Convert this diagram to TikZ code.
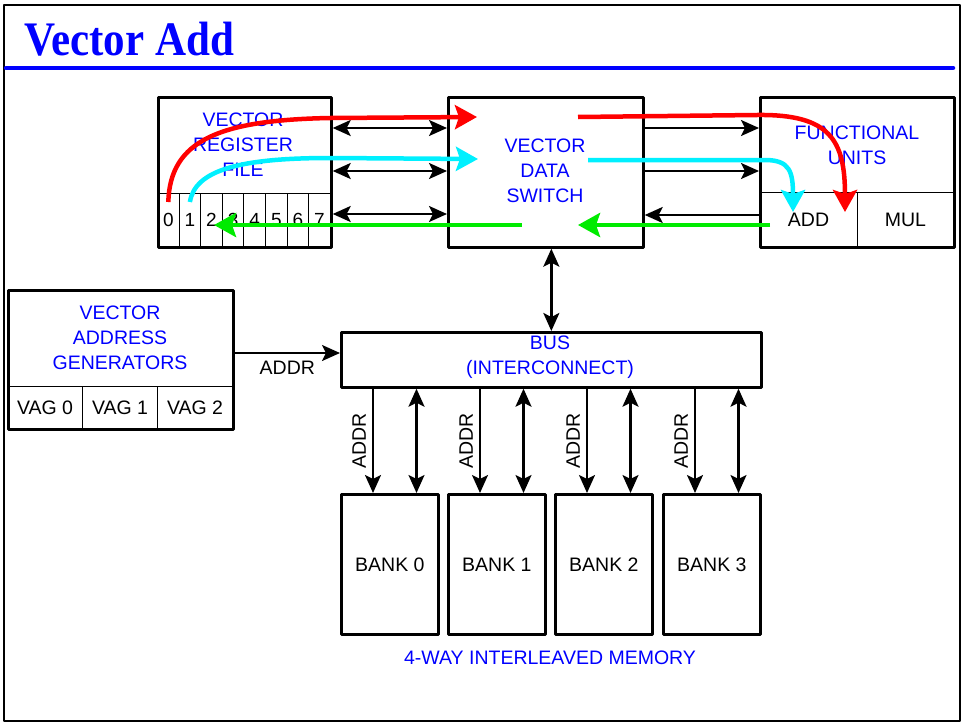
\documentclass[tikz,border=0pt]{standalone}
\usepackage{fontspec}
\setmainfont{Liberation Sans}
\newfontfamily\titlefont{Liberation Serif}
\usetikzlibrary{arrows.meta,calc}
\definecolor{flowred}{RGB}{255,0,0}
\definecolor{flowcyan}{RGB}{0,240,255}
\definecolor{flowgreen}{RGB}{0,235,0}
\tikzset{
  box/.style={draw, line width=2.7pt, inner sep=0pt, anchor=north west},
  cell/.style={draw, line width=1pt, inner sep=0pt, anchor=north west, font=\fontsize{19}{19}\selectfont},
  txt/.style={font=\fontsize{19.5}{25}\selectfont, align=center},
  lbl/.style={txt, text=blue},
  one/.style={line width=2.3pt, -{Stealth[length=18pt,width=16pt,inset=4pt]}},
  two/.style={line width=2.3pt, {Stealth[length=18pt,width=16pt,inset=4pt]}-{Stealth[length=18pt,width=16pt,inset=4pt]}},
  flow/.style={line width=4.5pt, draw=#1, -{Stealth[length=22pt,width=24pt,inset=4pt]}}
}
\begin{document}
\begin{tikzpicture}[x=1pt, y=-1pt, line join=round]
  \useasboundingbox (0,0) rectangle (964,723);
  % the slide frame and its title
  \draw[line width=1.8pt] (4,5) rectangle (960,721);
  \node[anchor=base west, text=blue, yscale=1.12, inner sep=0pt,
        font=\titlefont\bfseries\fontsize{43}{43}\selectfont] (title) at (24,55) {Vector Add};
  \draw[blue, line width=4.5pt, line cap=round] (6,68) -- (953,68);
  % vector register file, eight registers
  \foreach \i in {0,...,7}
    \node[cell, minimum width=21.6pt, minimum height=53pt] (r\i) at ({157+21.6*\i},193) {\i};
  \node[box, minimum width=173pt, minimum height=150pt] (vrf) at (157,96) {};
  \node[lbl] (vrft) at (243,145) {VECTOR\\REGISTER\\FILE};
  % vector data switch
  \node[box, minimum width=195pt, minimum height=150pt] (vds) at (447,96) {};
  \node[lbl] (vdst) at (545,171) {VECTOR\\DATA\\SWITCH};
  % functional units
  \node[cell, minimum width=98pt, minimum height=54pt, txt] (add) at (759,192) {ADD};
  \node[cell, minimum width=96pt, minimum height=54pt, txt] (mul) at (857,192) {MUL};
  \node[box, minimum width=194pt, minimum height=150pt] (fu) at (759,96) {};
  \node[lbl] (fut) at (857,145) {FUNCTIONAL\\UNITS};
  % address generators
  \foreach \i in {0,1,2}
    \node[cell, minimum width=75pt, minimum height=42pt, txt] (vag\i) at ({7+75*\i},386) {VAG \i};
  \node[box, minimum width=225pt, minimum height=139pt] (vag) at (7,289) {};
  \node[lbl] (vagt) at (120,338) {VECTOR\\ADDRESS\\GENERATORS};
  % bus
  \node[box, minimum width=420pt, minimum height=55pt] (bus) at (340,331) {};
  \node[lbl] (bust) at (550,357) {BUS\\(INTERCONNECT)};
  % memory banks
  \foreach \i/\x in {0/340,1/447,2/554,3/662} {
    \node[box, minimum width=97pt, minimum height=140pt, txt] (b\i) at (\x,493) {BANK \i};
    \coordinate (ad\i) at ([xshift=33pt]b\i.north west);
    \coordinate (da\i) at ([xshift=76.5pt]b\i.north west);
    \draw[one] (ad\i |- bus.south) -- (ad\i)
      node[midway, rotate=90, anchor=south, inner sep=6pt, txt] {ADDR};
    \draw[two] (da\i |- bus.south) -- (da\i);
  }
  \node[lbl] (mem) at (550,658) {4-WAY INTERLEAVED MEMORY};
  % black data paths
  \foreach \dy in {32,75,118}
    \draw[two] ([yshift=-\dy pt]vrf.north east) -- ([yshift=-\dy pt]vds.north west);
  \foreach \dy in {32,75}
    \draw[one] ([yshift=-\dy pt]vds.north east) -- ([yshift=-\dy pt]fu.north west);
  \draw[one] ([yshift=-119pt]fu.north west) -- ([yshift=-119pt]vds.north east);
  \draw[two] (bus.north |- vds.south) -- (bus.north);
  \draw[one] ([yshift=-64pt]vag.north east) coordinate (ga) -- (ga -| bus.west)
    node[midway, below=4pt, txt] {ADDR};
  % the add: two operands in, one result back
  \coordinate (redin) at (477,117);
  \coordinate (redout) at (578,117);
  \coordinate (redadd) at (845,212);
  \coordinate (cyin) at (478,159);
  \coordinate (cyout) at (588,160);
  \coordinate (cyadd) at (793,212);
  \coordinate (grnadd) at (770,225);
  \coordinate (grnsw) at (578,225);
  \coordinate (grnout) at (522,225);
  \coordinate (grnreg) at (214,225);
  \draw[flow=flowred] ([yshift=-9pt]r0.north) .. controls (170,140) and (220,120) .. (330,118) -- (redin);
  \draw[flow=flowred] (redout) -- (757,115) .. controls (830,114) and (845,140) .. (redadd);
  \draw[flow=flowcyan] ([yshift=-9pt]r1.north) .. controls (195,170) and (240,158) .. (330,158) -- (cyin);
  \draw[flow=flowcyan] (cyout) -- (765,160) .. controls (790,160) and (793,172) .. (cyadd);
  \draw[flow=flowgreen] (grnadd) -- (grnsw);
  \draw[flow=flowgreen] (grnout) -- (grnreg);
\end{tikzpicture}
\end{document}
